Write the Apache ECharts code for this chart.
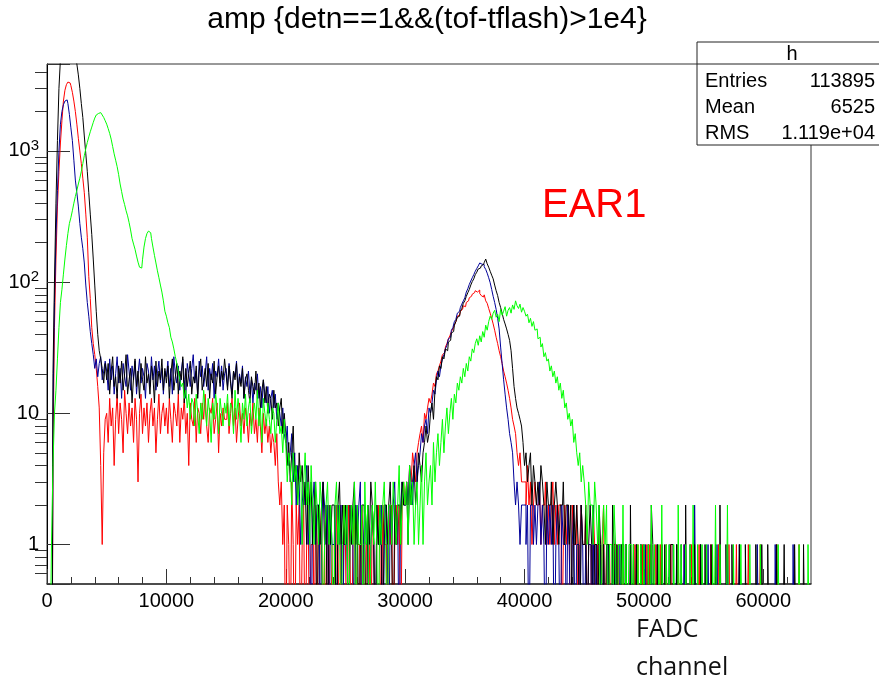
<!DOCTYPE html>
<html>
<head>
<meta charset="utf-8">
<title>amp</title>
<script src="https://cdn.jsdelivr.net/npm/echarts@6/dist/echarts.min.js"></script>
<style>
html, body { margin: 0; padding: 0; background: #fff; }
#main { width: 879px; height: 680px; }
</style>
</head>
<body>
<div id="main"></div>
<script>
// FADC channel histogram, 125-channel bins from 0 to 64000 (40 bins per row = 5000 channels),
// counts
var binStart = 0;
var binWidth = 125;

var countsBlack = [
  0, 0, 0, 0, 20, 100, 400, 1200, 3000, 5000, 6000, 6500, 7000, 7000, 7000, 7000, 6800, 6300, 5800, 5200,
  4600, 3800, 3000, 2300, 1800, 1300, 950, 700, 480, 330, 230, 150, 95, 60, 40, 30, 26, 22, 17, 24,
  18, 24, 14, 21, 27, 16, 19, 13, 23, 17, 25, 15, 20, 28, 14, 18, 22, 12, 19, 26,
  16, 21, 13, 24, 18, 15, 27, 17, 20, 14, 23, 19, 12, 25, 16, 21, 18, 26, 15, 22,
  17, 23, 13, 20, 26, 15, 19, 24, 14, 21, 18, 27, 12, 22, 16, 20, 25, 14, 19, 17,
  23, 13, 21, 26, 15, 18, 22, 16, 24, 13, 20, 17, 25, 14, 19, 23, 16, 21, 18, 26,
  20, 15, 23, 17, 13, 21, 18, 24, 14, 19, 16, 22, 13, 18, 20, 15, 12, 19, 16, 14,
  21, 13, 17, 11, 15, 18, 12, 16, 10, 14, 13, 9, 15, 11, 12, 8, 11, 13, 7, 10,
  7, 4, 6, 3, 5, 8, 3, 4, 2, 5, 3, 4, 2, 3, 1, 4, 2, 3, 1, 2,
  3, 0, 2, 1, 2, 3, 1, 2, 0, 2, 1, 2, 2, 1, 0, 2, 3, 1, 2, 1,
  2, 1, 0, 2, 1, 2, 3, 1, 2, 0, 1, 2, 2, 1, 0, 2, 1, 3, 2, 1,
  0, 2, 1, 2, 1, 0, 2, 2, 1, 2, 3, 1, 0, 2, 1, 2, 2, 1, 3, 2,
  2, 3, 1, 3, 2, 3, 4, 2, 3, 5, 4, 3, 5, 6, 8, 6, 7, 10, 12, 9,
  15, 19, 18, 23, 22, 27, 26, 31, 30, 35, 36, 41, 42, 47, 50, 54, 55, 60, 63, 69,
  72, 78, 83, 88, 95, 101, 106, 114, 119, 126, 128, 133, 136, 141, 150, 138, 130, 121, 113, 106,
  95, 86, 79, 70, 64, 58, 52, 48, 44, 40, 36, 30, 22, 16, 13, 11, 10, 9, 8, 6,
  4, 5, 3, 4, 5, 2, 4, 3, 2, 3, 2, 4, 3, 2, 1, 3, 2, 2, 3, 1,
  2, 3, 2, 1, 2, 2, 3, 1, 2, 2, 1, 2, 0, 2, 1, 2, 1, 0, 2, 1,
  1, 2, 0, 1, 2, 1, 0, 1, 1, 0, 2, 1, 0, 1, 0, 1, 1, 0, 0, 2,
  1, 0, 1, 0, 0, 1, 1, 0, 1, 0, 0, 2, 0, 1, 0, 1, 0, 0, 1, 0,
  1, 0, 0, 1, 0, 2, 1, 0, 0, 1, 0, 0, 1, 0, 1, 0, 0, 0, 1, 1,
  0, 0, 1, 0, 0, 1, 0, 0, 2, 0, 0, 1, 0, 0, 1, 0, 0, 0, 1, 0,
  0, 1, 0, 0, 0, 1, 0, 0, 1, 0, 0, 2, 0, 0, 0, 1, 0, 0, 0, 1,
  0, 0, 0, 0, 1, 0, 0, 0, 1, 0, 0, 0, 0, 0, 0, 1, 0, 0, 0, 1,
  0, 0, 0, 1, 0, 0, 0, 0, 0, 1, 0, 0, 0, 0, 1, 0,
  0, 0, 0, 0, 0, 1, 0, 0, 0, 0, 0, 1, 0, 0, 0, 0
];

var countsBlue = [
  0, 0, 0, 0, 10, 70, 220, 500, 1000, 1600, 2000, 2250, 2400, 2450, 2300, 1900, 1500, 1200, 850, 600,
  480, 380, 280, 220, 180, 140, 95, 70, 55, 42, 34, 28, 22, 26, 19, 24, 27, 18, 21, 25,
  21, 15, 26, 18, 23, 14, 20, 27, 17, 22, 13, 24, 19, 16, 28, 21, 15, 23, 18, 25,
  14, 20, 26, 17, 22, 19, 13, 24, 21, 16, 27, 18, 23, 15, 20, 25, 17, 22, 14, 21,
  19, 25, 16, 22, 14, 27, 20, 17, 23, 15, 21, 26, 18, 13, 24, 20, 16, 22, 28, 17,
  21, 14, 25, 19, 23, 16, 20, 27, 15, 22, 18, 24, 13, 21, 19, 26, 17, 23, 15, 20,
  22, 16, 24, 18, 14, 21, 19, 25, 15, 20, 17, 23, 13, 19, 16, 21, 14, 18, 12, 17,
  15, 20, 13, 16, 11, 18, 14, 12, 16, 10, 13, 15, 11, 14, 9, 12, 10, 8, 11, 7,
  6, 8, 4, 5, 7, 3, 5, 2, 4, 3, 1, 2, 3, 2, 4, 1, 2, 0, 2, 3,
  1, 2, 2, 0, 1, 3, 2, 1, 2, 0, 2, 1, 1, 2, 0, 2, 1, 2, 0, 1,
  1, 2, 0, 1, 2, 1, 0, 2, 1, 2, 3, 0, 1, 2, 1, 2, 0, 1, 2, 1,
  0, 2, 1, 1, 2, 0, 1, 2, 1, 0, 2, 1, 2, 3, 1, 2, 0, 2, 3, 2,
  2, 3, 2, 4, 3, 2, 4, 5, 3, 4, 5, 7, 6, 8, 9, 7, 11, 10, 12, 15,
  14, 18, 21, 19, 23, 26, 28, 31, 33, 37, 38, 43, 45, 50, 52, 58, 60, 64, 68, 72,
  76, 84, 89, 96, 102, 108, 114, 121, 127, 133, 140, 137, 136, 131, 125, 117, 108, 99, 88, 78,
  70, 62, 53, 44, 32, 24, 18, 14, 11, 9, 7, 6, 5, 3, 2, 3, 2, 1, 2, 2,
  2, 1, 2, 0, 2, 2, 1, 2, 1, 2, 3, 1, 2, 1, 0, 2, 1, 2, 1, 2,
  0, 1, 2, 1, 0, 2, 1, 1, 0, 2, 1, 0, 1, 2, 0, 1, 1, 0, 2, 1,
  0, 1, 0, 1, 1, 0, 2, 0, 1, 0, 0, 1, 0, 1, 0, 0, 1, 0, 0, 1,
  0, 1, 0, 0, 1, 0, 0, 0, 1, 0, 0, 1, 0, 0, 0, 1, 0, 0, 1, 0,
  0, 1, 0, 0, 0, 1, 0, 0, 0, 1, 0, 0, 1, 0, 0, 0, 0, 1, 0, 0,
  0, 0, 1, 0, 0, 0, 0, 1, 0, 0, 0, 0, 0, 0, 2, 0, 0, 0, 1, 0,
  0, 0, 0, 1, 0, 0, 0, 0, 0, 1, 0, 0, 0, 0, 0, 0, 1, 0, 0, 0,
  0, 0, 0, 0, 1, 0, 0, 0, 0, 0, 0, 0, 0, 0, 0, 0, 1, 0, 0, 0,
  0, 0, 0, 0, 0, 0, 0, 0, 1, 0, 0, 0, 0, 0, 0, 0,
  0, 0, 0, 0, 1, 0, 0, 0, 0, 0, 0, 0, 0, 0, 0, 0
];

var countsRed = [
  0, 0, 0, 0, 5, 45, 150, 380, 700, 1150, 1700, 2400, 2900, 3200, 3350, 3300, 3150, 2800, 2400, 2000,
  1600, 1250, 1000, 800, 620, 480, 330, 220, 110, 75, 45, 34, 28, 22, 16, 11, 4, 1, 5, 9,
  10, 6, 13, 8, 11, 4, 9, 14, 7, 12, 9, 5, 15, 10, 7, 12, 8, 11, 6, 13,
  9, 3, 10, 14, 7, 11, 8, 12, 6, 10, 13, 8, 11, 5, 9, 14, 7, 10, 12, 8,
  11, 7, 13, 9, 6, 12, 10, 8, 14, 6, 11, 9, 13, 7, 10, 4, 12, 9, 8, 13,
  6, 11, 10, 7, 12, 9, 14, 8, 6, 11, 10, 13, 7, 9, 12, 5, 10, 8, 11, 9,
  9, 12, 7, 10, 13, 8, 11, 6, 9, 12, 8, 10, 7, 11, 9, 6, 10, 8, 12, 7,
  9, 6, 11, 8, 5, 10, 7, 9, 6, 8, 5, 7, 6, 4, 7, 3, 2, 3, 1, 2,
  0, 2, 1, 0, 3, 1, 0, 2, 1, 2, 0, 1, 2, 0, 1, 2, 0, 1, 1, 0,
  2, 1, 0, 1, 2, 0, 1, 0, 2, 1, 0, 1, 1, 0, 2, 1, 0, 1, 0, 2,
  1, 0, 2, 1, 0, 1, 2, 0, 1, 1, 0, 2, 1, 0, 1, 2, 1, 0, 2, 1,
  0, 1, 2, 1, 0, 2, 1, 1, 0, 2, 1, 2, 0, 1, 2, 1, 2, 0, 2, 3,
  2, 3, 2, 4, 3, 5, 4, 3, 5, 6, 7, 8, 6, 10, 9, 11, 13, 12, 14, 17,
  16, 20, 21, 23, 25, 28, 29, 32, 34, 37, 39, 42, 44, 47, 50, 55, 56, 60, 62, 66,
  65, 70, 72, 76, 78, 81, 83, 86, 84, 87, 82, 79, 77, 80, 72, 69, 63, 58, 53, 48,
  43, 38, 34, 30, 27, 24, 21, 19, 17, 15, 13, 11, 9, 8, 7, 5, 4, 5, 3, 3,
  3, 2, 4, 2, 3, 1, 2, 3, 2, 2, 3, 1, 2, 2, 3, 1, 2, 1, 2, 3,
  1, 2, 1, 2, 2, 0, 1, 2, 1, 2, 1, 0, 2, 1, 1, 2, 0, 1, 2, 1,
  1, 2, 0, 1, 1, 0, 2, 1, 0, 1, 1, 0, 1, 2, 0, 1, 0, 1, 0, 0,
  1, 1, 0, 1, 0, 0, 1, 0, 1, 0, 0, 1, 0, 0, 1, 0, 1, 0, 0, 1,
  0, 0, 1, 0, 1, 0, 0, 0, 1, 0, 0, 1, 0, 0, 0, 1, 0, 0, 1, 0,
  0, 0, 0, 1, 0, 0, 0, 1, 0, 0, 0, 0, 1, 0, 0, 0, 0, 1, 0, 0,
  0, 0, 0, 0, 0, 1, 0, 0, 0, 0, 1, 0, 0, 0, 0, 0, 0, 1, 0, 0,
  0, 0, 1, 0, 0, 0, 0, 0, 0, 0, 1, 0, 0, 0, 0, 0, 0, 0, 1, 0,
  0, 0, 0, 0, 0, 0, 0, 0, 0, 1, 0, 0, 0, 0, 0, 0,
  0, 0, 0, 0, 0, 0, 0, 0, 1, 0, 0, 0, 0, 0, 0, 0
];

var countsGreen = [
  0, 0, 0, 1, 4, 10, 15, 26, 45, 70, 88, 115, 150, 190, 235, 280, 310, 350, 400, 450,
  500, 560, 620, 700, 800, 920, 1040, 1160, 1280, 1400, 1520, 1650, 1780, 1880, 1930, 1960, 1920, 1880, 1800, 1700,
  1600, 1480, 1360, 1230, 1080, 950, 850, 760, 660, 560, 490, 430, 390, 350, 320, 285, 250, 215, 195, 178,
  158, 142, 130, 128, 148, 185, 215, 235, 245, 238, 215, 185, 160, 140, 122, 108, 95, 84, 72, 60,
  55, 49, 45, 38, 35, 31, 27, 24, 21, 18, 16, 17, 13, 15, 11, 14, 9, 13, 12, 8,
  14, 10, 7, 12, 9, 15, 11, 8, 13, 10, 6, 12, 9, 14, 11, 7, 13, 10, 8, 12,
  10, 14, 8, 12, 11, 7, 15, 9, 13, 10, 6, 12, 9, 14, 8, 11, 13, 7, 10, 12,
  9, 15, 8, 11, 6, 13, 10, 8, 12, 9, 7, 11, 10, 6, 9, 12, 7, 8, 5, 9,
  6, 3, 5, 4, 2, 5, 3, 4, 2, 3, 4, 1, 3, 5, 2, 3, 1, 4, 2, 1,
  3, 2, 1, 3, 2, 0, 1, 2, 3, 1, 2, 1, 0, 2, 3, 1, 2, 0, 1, 2,
  1, 2, 0, 1, 2, 1, 3, 0, 2, 1, 1, 2, 0, 3, 1, 2, 0, 1, 2, 1,
  3, 1, 0, 2, 1, 2, 3, 1, 0, 2, 2, 1, 3, 2, 1, 2, 4, 1, 2, 3,
  2, 3, 1, 4, 2, 3, 1, 2, 3, 1, 2, 4, 1, 3, 5, 2, 3, 4, 2, 6,
  3, 5, 7, 4, 6, 9, 5, 8, 11, 7, 10, 13, 9, 14, 12, 17, 15, 19, 17, 22,
  19, 24, 21, 27, 25, 31, 29, 34, 37, 33, 39, 35, 42, 38, 47, 43, 50, 55, 52, 58,
  61, 54, 57, 50, 62, 56, 60, 65, 55, 61, 64, 58, 67, 62, 72, 66, 63, 68, 59, 64,
  60, 55, 57, 49, 53, 46, 50, 43, 44, 37, 38, 32, 34, 27, 29, 25, 26, 21, 23, 19,
  21, 17, 19, 15, 17, 13, 15, 11, 12, 9, 10, 8, 9, 6, 7, 5, 4, 5, 3, 4,
  3, 2, 1, 3, 2, 2, 1, 3, 2, 1, 2, 0, 1, 2, 1, 2, 0, 1, 1, 0,
  2, 1, 0, 1, 1, 0, 2, 0, 1, 0, 1, 1, 0, 1, 0, 0, 1, 0, 1, 0,
  1, 0, 0, 1, 0, 2, 0, 1, 0, 0, 1, 0, 2, 0, 0, 1, 0, 1, 0, 0,
  1, 0, 0, 2, 0, 1, 0, 0, 1, 0, 0, 1, 0, 2, 0, 0, 1, 0, 0, 1,
  0, 0, 1, 0, 0, 0, 1, 0, 2, 0, 0, 1, 0, 0, 0, 0, 2, 0, 0, 0,
  1, 0, 0, 0, 0, 1, 0, 0, 0, 0, 0, 1, 0, 0, 0, 0, 0, 0, 1, 0,
  0, 0, 0, 0, 0, 0, 0, 0, 0, 0, 1, 0, 0, 0, 0, 0,
  0, 0, 0, 0, 0, 0, 0, 0, 1, 0, 0, 0, 0, 0, 1, 0
];

var xMajorTicks = [0, 10000, 20000, 30000, 40000, 50000, 60000];
var xMinorTicks = [2000, 4000, 6000, 8000, 12000, 14000, 16000, 18000, 22000, 24000, 26000, 28000,
  32000, 34000, 36000, 38000, 42000, 44000, 46000, 48000, 52000, 54000, 56000, 58000, 62000];
var yMinorTicks = [0.6, 0.7, 0.8, 0.9, 2, 3, 4, 5, 6, 7, 8, 9, 20, 30, 40, 50, 60, 70, 80, 90,
  200, 300, 400, 500, 600, 700, 800, 900, 2000, 3000, 4000];

var statsRows = [['Entries', '113895'], ['Mean', '6525'], ['RMS', '1.119e+04']];

// empty bins go to 0.1 so they drop below the log axis floor and get clipped
function toPairs(counts) {
  return counts.map(function (c, i) {
    return [binStart + (i + 0.5) * binWidth, c > 0 ? c : 0.1];
  });
}

function histSeries(name, counts, color) {
  return {
    name: name,
    type: 'line',
    step: 'middle',
    symbol: 'none',
    clip: true,
    animation: false,
    lineStyle: { color: color, width: 1 },
    data: toPairs(counts)
  };
}

var myChart = echarts.init(document.getElementById('main'));

var graphics = [
  {
    type: 'text', x: 427, y: 20, z: 100,
    style: { text: 'amp {detn==1&&(tof-tflash)>1e4}', fontSize: 30, fontFamily: 'Liberation Sans',
      fill: '#000', align: 'center', verticalAlign: 'middle' }
  },
  {
    type: 'text', x: 542, y: 206, z: 100,
    style: { text: 'EAR1', fontSize: 40, fontFamily: 'Liberation Sans', fill: '#f00',
      align: 'left', verticalAlign: 'middle' }
  },
  {
    type: 'text', x: 636, y: 630, z: 100,
    style: { text: 'FADC', fontSize: 25, fontFamily: 'Open Sans', fill: '#111',
      align: 'left', verticalAlign: 'middle' }
  },
  {
    type: 'text', x: 636, y: 668, z: 100,
    style: { text: 'channel', fontSize: 25, fontFamily: 'Open Sans', fill: '#111',
      align: 'left', verticalAlign: 'middle' }
  },
  {
    type: 'rect', z: 100,
    shape: { x: 697, y: 42, width: 200, height: 103 },
    style: { fill: '#fff', stroke: '#222', lineWidth: 1 }
  },
  {
    type: 'line', z: 101,
    shape: { x1: 697, y1: 64, x2: 879, y2: 64 },
    style: { stroke: '#222', lineWidth: 1 }
  },
  {
    type: 'text', x: 792, y: 54, z: 102,
    style: { text: 'h', fontSize: 20, fontFamily: 'Liberation Sans', fill: '#000',
      align: 'center', verticalAlign: 'middle' }
  }
];

statsRows.forEach(function (row, i) {
  var y = 81 + i * 26;
  graphics.push({
    type: 'text', x: 705, y: y, z: 102,
    style: { text: row[0], fontSize: 20, fontFamily: 'Liberation Sans', fill: '#000',
      align: 'left', verticalAlign: 'middle' }
  });
  graphics.push({
    type: 'text', x: 875, y: y, z: 102,
    style: { text: row[1], fontSize: 20, fontFamily: 'Liberation Sans', fill: '#000',
      align: 'right', verticalAlign: 'middle' }
  });
});

var options = {
  backgroundColor: '#fff',
  animation: false,
  grid: {
    left: 47, right: 68, top: 64, bottom: 96,
    show: true, borderColor: '#333', borderWidth: 1, backgroundColor: 'transparent'
  },
  xAxis: [
    {
      type: 'value', min: 0, max: 64000,
      axisLine: { lineStyle: { color: '#333', width: 1.5 } },
      axisTick: { inside: true, length: 15, lineStyle: { color: '#333' }, customValues: xMajorTicks },
      axisLabel: {
        customValues: xMajorTicks, fontSize: 20, fontFamily: 'Liberation Sans', color: '#000', margin: 7,
        formatter: function (v) { return String(v); }
      },
      splitLine: { show: false }
    },
    {
      type: 'value', min: 0, max: 64000, position: 'bottom',
      axisLine: { show: false },
      axisTick: { inside: true, length: 7, lineStyle: { color: '#333' }, customValues: xMinorTicks },
      axisLabel: { show: false },
      splitLine: { show: false }
    }
  ],
  yAxis: [
    {
      type: 'log', logBase: 10, min: 0.5, max: 4600,
      axisLine: { show: true, lineStyle: { color: '#000', width: 1 } },
      axisTick: { inside: true, length: 23, lineStyle: { color: '#333' } },
      axisLabel: {
        margin: 8,
        formatter: function (v) {
          var e = Math.round(Math.log10(v));
          if (Math.abs(v - Math.pow(10, e)) > 1e-6 * v) return '';
          if (e === 0) return '{b|1}';
          if (e === 1) return '{b|10}';
          return '{b|10}{s|' + e + '}';
        },
        rich: {
          b: { fontSize: 20, fontFamily: 'Liberation Sans', color: '#000' },
          s: { fontSize: 15, fontFamily: 'Liberation Sans', color: '#000', padding: [0, 0, 10, 0] }
        }
      },
      splitLine: { show: false }
    },
    {
      type: 'log', logBase: 10, min: 0.5, max: 4600,
      axisLine: { show: false },
      axisTick: { inside: true, length: 12, lineStyle: { color: '#333' }, customValues: yMinorTicks },
      axisLabel: { show: false },
      splitLine: { show: false }
    }
  ],
  series: [
    histSeries('red', countsRed, '#ff0000'),
    histSeries('blue', countsBlue, '#000099'),
    histSeries('black', countsBlack, '#000000'),
    histSeries('green', countsGreen, '#00ff00')
  ],
  graphic: graphics
};

myChart.setOption(options);
</script>
</body>
</html>
